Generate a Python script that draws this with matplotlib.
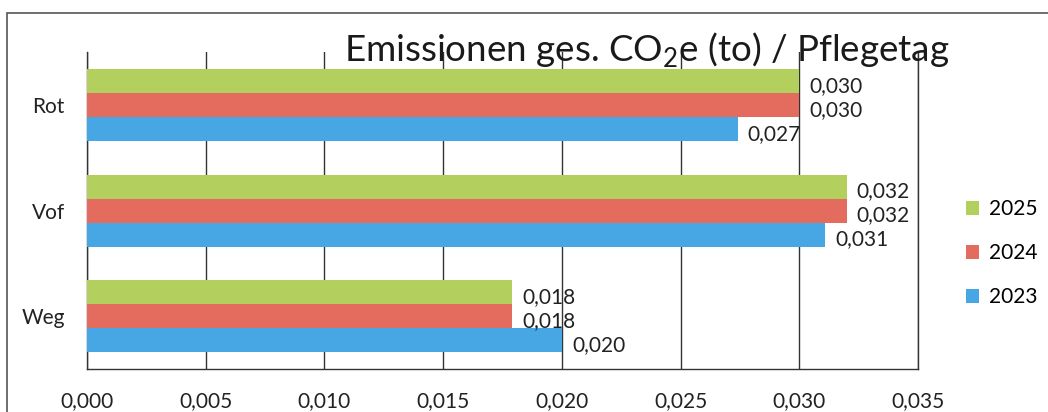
import matplotlib
matplotlib.use("Agg")
import matplotlib.pyplot as plt
import numpy as np
from matplotlib.patches import Rectangle

plt.rcParams["font.family"] = ["Lato", "DejaVu Sans"]

categories = ["Weg", "Vof", "Rot"]  # bottom to top
years = ["2023", "2024", "2025"]
values_2023 = [0.0200, 0.0311, 0.0274]
values_2024 = [0.0179, 0.0320, 0.0300]
values_2025 = [0.0179, 0.0320, 0.0300]
xticks = [0.000, 0.005, 0.010, 0.015, 0.020, 0.025, 0.030, 0.035]

colors = {"2023": "#47a6e4", "2024": "#e46c5e", "2025": "#b3d05e"}
FS = 15


def comma(v):
    return f"{v:.3f}".replace(".", ",")


fig = plt.figure(figsize=(10.48, 4.12), dpi=100)
ax = fig.add_axes([0.083, 0.104, 0.793, 0.770])

# outer chart frame
fig.patches.append(Rectangle((7 / 1048, -0.05), 1.2, (412 - 12.7) / 412 + 0.05,
                             transform=fig.transFigure, fill=False,
                             edgecolor="#555555", linewidth=1.2))

y = np.arange(len(categories))
h = 0.227
series = [("2023", values_2023, -h), ("2024", values_2024, 0.0), ("2025", values_2025, h)]
for year, vals, off in series:
    bars = ax.barh(y + off, vals, height=h, color=colors[year], label=year, zorder=3)
    for bar, v in zip(bars, vals):
        ax.annotate(comma(v), (v, bar.get_y() + bar.get_height() / 2),
                    xytext=(10, -5), textcoords="offset pixels",
                    ha="left", va="center", fontsize=FS, color="#222222", zorder=4)

ax.set_xlim(0, 0.035)
ax.set_ylim(-0.5, 2.5)
ax.set_xticks(xticks)
ax.set_xticklabels([comma(t) for t in xticks], fontsize=FS, color="#222222")
ax.set_yticks(y)
ax.set_yticklabels(categories, fontsize=FS, color="#222222")
ax.tick_params(axis="x", length=0, pad=16)
ax.tick_params(axis="y", length=0, pad=16)
ax.grid(axis="x", color="#333333", linewidth=1.0, zorder=0)
ax.spines["top"].set_visible(False)
for s in ["left", "right", "bottom"]:
    ax.spines[s].set_color("#333333")
    ax.spines[s].set_linewidth(1.0)

handles, labels = ax.get_legend_handles_labels()
fig.legend(handles[::-1], labels[::-1], loc="center left",
           bbox_to_anchor=(0.922, 0.385), frameon=False, fontsize=FS,
           handlelength=0.6, handleheight=0.6, handletextpad=0.5, labelspacing=1.15,
           borderaxespad=0, borderpad=0)

fig.text(0.617, 0.877, "Emissionen ges. CO$_{\\mathregular{2}}$e (to) / Pflegetag",
         ha="center", va="center", fontsize=26.5, color="#1a1a1a")

fig.savefig("out.png", dpi=100)
